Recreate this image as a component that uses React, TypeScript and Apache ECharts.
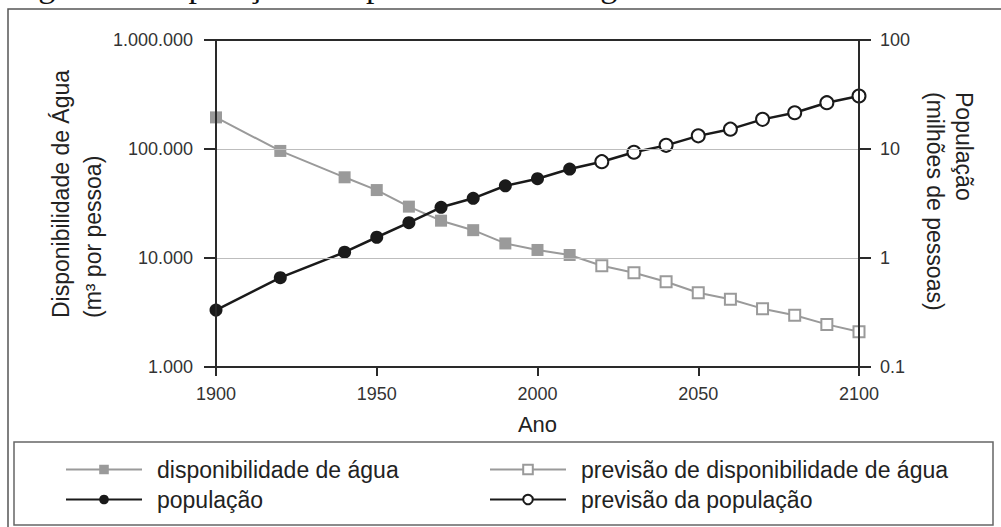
import React, { useEffect, useRef } from "react";
import * as echarts from "echarts";

const histYears = [1900, 1920, 1940, 1950, 1960, 1970, 1980, 1990, 2000, 2010];
const waterHist = [195000, 96000, 55000, 42000, 29600, 22000, 18000, 13600, 11850, 10650];
const popHist = [0.333, 0.66, 1.13, 1.55, 2.11, 2.92, 3.53, 4.6, 5.34, 6.55];

const fcYears = [2020, 2030, 2040, 2050, 2060, 2070, 2080, 2090, 2100];
const waterFc = [8500, 7330, 6060, 4800, 4180, 3430, 2980, 2460, 2110];
const popFc = [7.65, 9.33, 10.8, 13.2, 15.2, 18.7, 21.5, 26.6, 30.6];

const SANS = "'Liberation Sans', Arial, Helvetica, sans-serif";
const SERIF = "'Liberation Serif', 'Times New Roman', serif";
const GRAY = "#9a9a9a";
const BLACK = "#1a1a1a";
const AXIS = "#2a2a2a";

const fmtThousands = (v: number) =>
  String(Math.round(v)).replace(/\B(?=(\d{3})+(?!\d))/g, ".");
const fmtPop = (v: number) => (v < 1 ? v.toFixed(1) : String(Math.round(v)));

export default function App() {
  const ref = useRef<HTMLDivElement>(null);
  useEffect(() => {
    if (!ref.current) return;
    const chart = echarts.init(ref.current, null, { renderer: "svg" });

    const histPairs = (vals: number[]) => histYears.map((y, i) => [y, vals[i]]);
    const fcPairs = (vals: number[], last: number) => [
      { value: [histYears[histYears.length - 1], last], symbol: "none" },
      ...fcYears.map((y, i) => [y, vals[i]]),
    ];

    const axisLineStyle = { color: AXIS, width: 2 };

    chart.setOption({
      animation: false,
      backgroundColor: "#fff",
      grid: { left: 216, top: 40, width: 643, height: 327 },
      graphic: [
        {
          type: "rect",
          shape: { x: 8, y: 9, width: 1100, height: 700 },
          style: { fill: "none", stroke: "#555", lineWidth: 1.5 },
          z: -1,
        },
        {
          type: "rect",
          shape: { x: 14, y: 442, width: 979, height: 83 },
          style: { fill: "none", stroke: "#666", lineWidth: 1.5 },
          z: -1,
        },
        {
          type: "text",
          x: 10,
          y: -15,
          style: {
            text: "Figura 1 - População e disponibilidade de água no estado de Santa Catarina",
            font: `34px ${SERIF}`,
            fill: "#111",
            align: "left",
            verticalAlign: "middle",
          },
        },
        {
          type: "text",
          x: 77,
          y: 318,
          rotation: Math.PI / 2,
          style: {
            text: "Disponibilidade de Água\n(m³ por pessoa)",
            font: `23px ${SANS}`,
            fill: "#222",
            align: "left",
            verticalAlign: "middle",
            lineHeight: 32,
          },
        },
        {
          type: "text",
          x: 949,
          y: 92,
          rotation: -Math.PI / 2,
          style: {
            text: "População\n(milhões de pessoas)",
            font: `23px ${SANS}`,
            fill: "#222",
            align: "left",
            verticalAlign: "middle",
            lineHeight: 29,
          },
        },
      ],
      legend: [
        {
          left: 60,
          top: 453,
          orient: "vertical",
          itemWidth: 76,
          itemHeight: 12,
          itemGap: 7,
          selectedMode: false,
          textStyle: { fontSize: 23, color: "#222", fontFamily: SANS, padding: [0, 0, 0, 10] },
          data: ["disponibilidade de água", "população"],
        },
        {
          left: 484,
          top: 453,
          orient: "vertical",
          itemWidth: 76,
          itemHeight: 12,
          itemGap: 7,
          selectedMode: false,
          textStyle: { fontSize: 23, color: "#222", fontFamily: SANS, padding: [0, 0, 0, 10] },
          data: ["previsão de disponibilidade de água", "previsão da população"],
        },
      ],
      xAxis: [
        {
          type: "value",
          min: 1900,
          max: 2100,
          interval: 50,
          position: "bottom",
          axisLine: { show: true, lineStyle: axisLineStyle },
          axisTick: { show: true, length: 9, lineStyle: axisLineStyle },
          axisLabel: {
            margin: 18,
            fontSize: 18,
            color: "#333",
            fontFamily: SANS,
            formatter: (v: number) => String(Math.round(v)),
          },
          splitLine: { show: false },
          name: "Ano",
          nameLocation: "middle",
          nameGap: 46,
          nameTextStyle: { fontSize: 22, color: "#222", fontFamily: SANS },
          z: 5,
        },
        {
          type: "value",
          min: 1900,
          max: 2100,
          position: "top",
          axisLine: { show: true, lineStyle: axisLineStyle },
          axisTick: { show: false },
          axisLabel: { show: false },
          splitLine: { show: false },
          z: 5,
        },
      ],
      yAxis: [
        {
          type: "log",
          logBase: 10,
          min: 1000,
          max: 1000000,
          position: "left",
          axisLine: { show: true, lineStyle: axisLineStyle },
          axisTick: { show: true, length: 12, lineStyle: axisLineStyle },
          axisLabel: {
            margin: 23,
            fontSize: 18,
            color: "#333",
            fontFamily: SANS,
            formatter: (v: number) => fmtThousands(v),
          },
          splitLine: { show: true, lineStyle: { color: "#bdbdbd", width: 1 } },
          z: 5,
        },
        {
          type: "log",
          logBase: 10,
          min: 0.1,
          max: 100,
          position: "right",
          axisLine: { show: true, lineStyle: axisLineStyle },
          axisTick: { show: true, length: 12, lineStyle: axisLineStyle },
          axisLabel: {
            margin: 21,
            fontSize: 18,
            color: "#333",
            fontFamily: SANS,
            formatter: (v: number) => fmtPop(v),
          },
          splitLine: { show: false },
          z: 5,
        },
      ],
      series: [
        {
          name: "previsão de disponibilidade de água",
          type: "line",
          xAxisIndex: 0,
          yAxisIndex: 0,
          clip: false,
          data: fcPairs(waterFc, waterHist[waterHist.length - 1]),
          symbol: "rect",
          symbolSize: 11,
          lineStyle: { color: GRAY, width: 2 },
          itemStyle: { color: "#fff", borderColor: GRAY, borderWidth: 2 },
          z: 3,
        },
        {
          name: "disponibilidade de água",
          type: "line",
          xAxisIndex: 0,
          yAxisIndex: 0,
          clip: false,
          data: histPairs(waterHist),
          symbol: "rect",
          symbolSize: 12,
          lineStyle: { color: GRAY, width: 2 },
          itemStyle: { color: GRAY, borderColor: GRAY, borderWidth: 0 },
          z: 3,
        },
        {
          name: "previsão da população",
          type: "line",
          xAxisIndex: 0,
          yAxisIndex: 1,
          clip: false,
          data: fcPairs(popFc, popHist[popHist.length - 1]),
          symbol: "circle",
          symbolSize: 13,
          lineStyle: { color: BLACK, width: 2.5 },
          itemStyle: { color: "#fff", borderColor: BLACK, borderWidth: 2 },
          z: 4,
        },
        {
          name: "população",
          type: "line",
          xAxisIndex: 0,
          yAxisIndex: 1,
          clip: false,
          data: histPairs(popHist),
          symbol: "circle",
          symbolSize: 13,
          lineStyle: { color: BLACK, width: 2.5 },
          itemStyle: { color: BLACK, borderColor: BLACK, borderWidth: 0 },
          z: 4,
        },
      ],
    });

    return () => chart.dispose();
  }, []);

  return (
    <div
      ref={ref}
      style={{ position: "absolute", left: 0, top: 0, width: 1001, height: 527, background: "#fff" }}
    />
  );
}
